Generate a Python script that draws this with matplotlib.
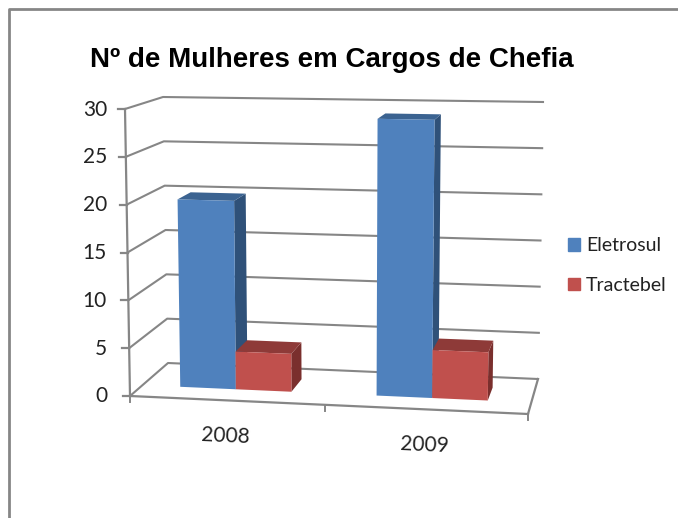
import numpy as np
import matplotlib.pyplot as plt
from matplotlib.patches import Patch

# Values
years = ['2008', '2009']
eletrosul = [20, 29]
tractebel = [4, 5]
y_ticks = [0, 5, 10, 15, 20, 25, 30]
y_max = 30

BLUE = ('#4F81BD', '#3B6391', '#2F5179')
RED = ('#C0504D', '#8E3A38', '#7A2F2D')
GRID = '#868686'

# Corners of the 3D box in pixels: (across, depth, top)
corners = {
    (0, 0, 0): (130, 396), (1, 0, 0): (528, 414),
    (0, 1, 0): (168, 363), (1, 1, 0): (538, 379),
    (0, 0, 1): (125, 109), (1, 0, 1): (533, 117),
    (0, 1, 1): (163, 97), (1, 1, 1): (543, 102),
}


# Trilinear projection: u across the floor, d into the depth, v the value
def project(u, d, v):
    t = v / y_max
    p = np.zeros(2)
    for (a, b, c), xy in corners.items():
        w = (u if a else 1 - u) * (d if b else 1 - d) * (t if c else 1 - t)
        p += w * np.array(xy)
    return p


fig = plt.figure(figsize=(6.78, 5.18), dpi=100)
ax = fig.add_axes([0, 0, 1, 1])
ax.set_xlim(0, 678)
ax.set_ylim(518, 0)
ax.axis('off')

# Outer chart frame, only top and left show
ax.plot([9, 9, 678], [518, 9, 9], color=GRID, lw=2, zorder=1)

# Walls and gridlines
for v in y_ticks:
    pts = np.array([project(0, 0, v), project(0, 1, v), project(1, 1, v)])
    ax.plot(pts[:, 0], pts[:, 1], color=GRID, lw=1.5, zorder=2)
    fx, fy = project(0, 0, v)
    ax.plot([fx - 7, fx], [fy, fy], color=GRID, lw=1.6, zorder=2)
    ax.text(107, fy + 0.5, str(v), ha='right', va='center', fontsize=15,
            family='Lato', color='#222222')

# Floor edges and axes
for a, b in [((0, 0, 0), (1, 0, 0)), ((1, 0, 0), (1, 1, 0)), ((0, 0, 0), (0, 0, y_max))]:
    pts = np.array([project(*a), project(*b)])
    ax.plot(pts[:, 0], pts[:, 1], color=GRID, lw=1.6, zorder=2)

for u in [0, 0.49, 1]:
    fx, fy = project(u, 0, 0)
    ax.plot([fx, fx], [fy, fy + 6], color=GRID, lw=1.4, zorder=2)


def draw_bar(u0, u1, value, colors, z):
    d0, d1 = 0.33, 0.70
    front = [project(u0, d0, 0), project(u1, d0, 0), project(u1, d0, value), project(u0, d0, value)]
    top = [project(u0, d0, value), project(u1, d0, value), project(u1, d1, value), project(u0, d1, value)]
    side = [project(u1, d0, 0), project(u1, d1, 0), project(u1, d1, value), project(u1, d0, value)]
    for poly, col in [(side, colors[2]), (top, colors[1]), (front, colors[0])]:
        poly = np.array(poly)
        ax.fill(poly[:, 0], poly[:, 1], color=col, lw=0, zorder=z)


# Bars, across position comes from the category index
centers = [0.24, 0.745]
width = 0.143
for i, c in enumerate(centers):
    draw_bar(c - width, c, eletrosul[i], BLUE, 3)
    draw_bar(c, c + width, tractebel[i], RED, 4)

    lx, ly = project(i * 0.5 + 0.25, 0, 0)
    ax.text(lx - 4, ly + 36, years[i], ha='center', va='center', fontsize=15,
            family='Lato', color='#222222', rotation=-2.5)

ax.text(332, 60, 'Nº de Mulheres em Cargos de Chefia', ha='center', va='center',
        fontsize=20, family='Liberation Sans', fontweight='bold', color='black')

handles = [Patch(color=BLUE[0], label='Eletrosul'), Patch(color=RED[0], label='Tractebel')]
ax.legend(handles=handles, loc='center left', bbox_to_anchor=(568 / 678, 1 - 265.5 / 518),
          frameon=False, handlelength=0.62, handleheight=0.62, handletextpad=0.3,
          labelspacing=1.15, borderpad=0, borderaxespad=0,
          prop={'family': 'Lato', 'size': 14}, labelcolor='#222222')

plt.savefig('out.png', dpi=100)
